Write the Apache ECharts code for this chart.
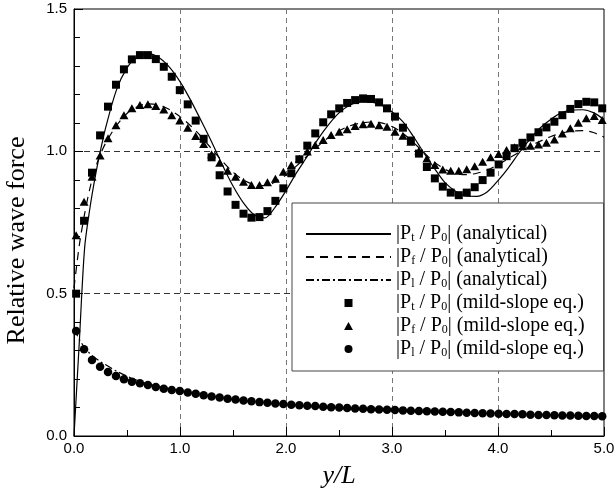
<!DOCTYPE html>
<html><head><meta charset="utf-8">
<script src="https://cdn.jsdelivr.net/npm/echarts@6/dist/echarts.min.js"></script>
<style>html,body{margin:0;padding:0;background:#fff}#c{width:616px;height:492px}</style>
</head><body><div id="c"></div>
<script>
// mild-slope equation sample positions (y/L)
const xMs = [0.02,0.095,0.17,0.246,0.321,0.396,0.471,0.546,0.622,0.697,0.772,0.847,0.922,0.998,1.073,1.148,1.223,1.298,1.374,1.449,1.524,1.599,1.674,1.75,1.825,1.9,1.975,2.05,2.126,2.201,2.276,2.351,2.426,2.502,2.577,2.652,2.727,2.802,2.878,2.953,3.028,3.103,3.178,3.254,3.329,3.404,3.479,3.554,3.63,3.705,3.78,3.855,3.93,4.006,4.081,4.156,4.231,4.306,4.382,4.457,4.532,4.607,4.682,4.758,4.833,4.908,4.983];
const ptMs = [0.500,0.756,0.925,1.056,1.157,1.234,1.288,1.323,1.338,1.338,1.324,1.297,1.262,1.215,1.165,1.108,1.044,0.979,0.916,0.859,0.812,0.781,0.767,0.769,0.790,0.826,0.870,0.923,0.972,1.020,1.063,1.102,1.130,1.151,1.170,1.180,1.186,1.184,1.172,1.151,1.122,1.083,1.038,0.992,0.945,0.905,0.876,0.855,0.846,0.855,0.874,0.899,0.925,0.954,0.983,1.011,1.030,1.049,1.067,1.084,1.104,1.127,1.149,1.166,1.174,1.172,1.151];
const pfMs = [0.705,0.823,0.911,0.985,1.046,1.092,1.127,1.151,1.163,1.165,1.159,1.147,1.127,1.108,1.083,1.054,1.026,0.990,0.960,0.932,0.911,0.893,0.882,0.882,0.891,0.904,0.928,0.952,0.974,0.999,1.022,1.040,1.057,1.069,1.078,1.089,1.095,1.097,1.092,1.086,1.069,1.055,1.034,1.002,0.975,0.952,0.936,0.932,0.932,0.937,0.948,0.963,0.979,0.991,1.005,1.014,1.018,1.020,1.024,1.030,1.042,1.063,1.081,1.100,1.116,1.124,1.110];
const plMs = [0.369,0.305,0.267,0.243,0.225,0.211,0.199,0.191,0.185,0.179,0.172,0.166,0.162,0.158,0.153,0.148,0.143,0.139,0.135,0.131,0.128,0.125,0.122,0.119,0.117,0.114,0.112,0.110,0.108,0.106,0.105,0.103,0.101,0.100,0.098,0.097,0.096,0.094,0.093,0.092,0.091,0.090,0.089,0.088,0.087,0.086,0.085,0.084,0.083,0.082,0.081,0.080,0.079,0.078,0.077,0.077,0.076,0.075,0.074,0.074,0.073,0.072,0.072,0.071,0.070,0.070,0.069];

// analytical solution sample positions (y/L)
const xAn = [0,0.05,0.1,0.15,0.2,0.25,0.3,0.4,0.5,0.6,0.7,0.8,0.9,1.0,1.1,1.2,1.3,1.4,1.5,1.6,1.7,1.8,1.9,2.0,2.1,2.2,2.3,2.4,2.5,2.6,2.7,2.8,2.9,3.0,3.1,3.2,3.3,3.4,3.5,3.6,3.7,3.8,3.9,4.0,4.1,4.2,4.3,4.4,4.5,4.6,4.7,4.8,4.9,5.0];
const ptAn = [0,0.33,0.66,0.80,0.91,1.003,1.085,1.215,1.293,1.333,1.343,1.330,1.296,1.245,1.180,1.107,1.032,0.952,0.878,0.818,0.777,0.766,0.805,0.862,0.925,0.982,1.042,1.093,1.135,1.162,1.173,1.173,1.162,1.139,1.105,1.053,0.995,0.940,0.890,0.860,0.843,0.842,0.858,0.897,0.943,0.995,1.042,1.083,1.113,1.136,1.145,1.146,1.136,1.112];
const pfAn = [0.52,0.67,0.78,0.87,0.94,0.99,1.03,1.09,1.133,1.157,1.167,1.163,1.147,1.122,1.09,1.052,1.008,0.965,0.927,0.899,0.883,0.880,0.892,0.917,0.949,0.984,1.018,1.048,1.072,1.089,1.099,1.103,1.100,1.087,1.064,1.032,0.996,0.962,0.937,0.922,0.918,0.923,0.935,0.953,0.975,0.997,1.018,1.036,1.052,1.064,1.071,1.073,1.066,1.050];
const plAn = [0.375,0.34,0.31,0.29,0.274,0.261,0.25,0.228,0.21,0.195,0.183,0.174,0.166,0.159,0.152,0.145,0.139,0.134,0.129,0.125,0.121,0.118,0.114,0.111,0.109,0.106,0.104,0.102,0.100,0.098,0.096,0.094,0.093,0.091,0.090,0.089,0.087,0.086,0.085,0.084,0.083,0.081,0.080,0.079,0.078,0.077,0.076,0.075,0.074,0.073,0.072,0.071,0.070,0.069];

const legendText = {
  ta: '|P{s|t} / P{s|0}| (analytical)',
  fa: '|P{s|f} / P{s|0}| (analytical)',
  la: '|P{s|l} / P{s|0}| (analytical)',
  tm: '|P{s|t} / P{s|0}| (mild-slope eq.)',
  fm: '|P{s|f} / P{s|0}| (mild-slope eq.)',
  lm: '|P{s|l} / P{s|0}| (mild-slope eq.)'
};
const xAxisTitle = 'y/L';
const yAxisTitle = 'Relative wave force';

const zip = (xs, ys) => xs.map((x, i) => [x, ys[i]]);
const serif = 'Liberation Serif';
const sans = 'Liberation Sans';

const chart = echarts.init(document.getElementById('c'), null, {renderer: 'canvas'});
chart.setOption({
  animation: false,
  backgroundColor: '#fff',
  grid: {left: 74, right: 12, top: 9, bottom: 56, containLabel: false, outerBoundsMode: 'none',
    show: true, borderColor: '#000', borderWidth: 1, backgroundColor: 'transparent'},
  xAxis: {
    type: 'value', min: 0, max: 5, interval: 1,
    name: xAxisTitle, nameLocation: 'middle', nameGap: 27,
    nameTextStyle: {fontFamily: serif, fontStyle: 'italic', fontSize: 26, color: '#000'},
    axisLine: {show: true, onZero: false, lineStyle: {color: '#000', width: 1}},
    axisTick: {show: true, inside: true, length: 9, lineStyle: {color: '#000'}},
    minorTick: {show: true, splitNumber: 2, length: 6, lineStyle: {color: '#000'}},
    axisLabel: {margin: 5, fontFamily: sans, fontSize: 15, color: '#000', formatter: v => v.toFixed(1)},
    splitLine: {show: true, showMinLine: false, showMaxLine: false, lineStyle: {color: '#777', type: [5, 4], width: 1}}
  },
  yAxis: {
    type: 'value', min: 0, max: 1.5, interval: 0.5,
    name: yAxisTitle, nameLocation: 'middle', nameGap: 44,
    nameTextStyle: {fontFamily: serif, fontSize: 26, color: '#000', padding: [0, 36, 0, 0]},
    axisLine: {show: true, onZero: false, lineStyle: {color: '#000', width: 1}},
    axisTick: {show: true, inside: true, length: 9, lineStyle: {color: '#000'}},
    minorTick: {show: true, splitNumber: 5, length: 6, lineStyle: {color: '#000'}},
    axisLabel: {margin: 7, fontFamily: sans, fontSize: 15, color: '#000', formatter: v => v.toFixed(1)},
    splitLine: {show: true, showMinLine: false, showMaxLine: false, lineStyle: {color: '#333', type: [6, 4], width: 1}}
  },
  legend: {
    orient: 'vertical', left: 292, top: 203, align: 'left',
    itemWidth: 85, itemHeight: 8, itemGap: 3, symbolKeepAspect: true,
    padding: [21, 19, 12, 13],
    borderColor: '#444', borderWidth: 1, borderRadius: 0, backgroundColor: '#fff',
    selectedMode: false,
    formatter: name => legendText[name],
    textStyle: {fontFamily: serif, fontSize: 20, color: '#000', lineHeight: 20,
      rich: {s: {fontFamily: serif, fontSize: 12, lineHeight: 12, verticalAlign: 'bottom', color: '#000'}}},
    data: [
      {name: 'ta', itemStyle: {opacity: 0}},
      {name: 'fa', itemStyle: {opacity: 0}},
      {name: 'la', itemStyle: {opacity: 0}},
      {name: 'tm', icon: 'path://M0,0L10,0L10,10L0,10Z'},
      {name: 'fm', icon: 'path://M5,0L10,9L0,9Z'},
      {name: 'lm', icon: 'circle'}
    ]
  },
  series: [
    {name: 'ta', type: 'line', data: zip(xAn, ptAn), symbol: 'none', smooth: 0.3, z: 2,
      lineStyle: {color: '#000', width: 1.2, type: 'solid'}, itemStyle: {color: '#000'}},
    {name: 'fa', type: 'line', data: zip(xAn, pfAn), symbol: 'none', smooth: 0.3, z: 2,
      lineStyle: {color: '#000', width: 1.2, type: [8, 6]}, itemStyle: {color: '#000'}},
    {name: 'la', type: 'line', data: zip(xAn, plAn), symbol: 'none', smooth: 0.3, z: 2,
      lineStyle: {color: '#000', width: 1.2, type: [8, 3, 2, 3]}, itemStyle: {color: '#000'}},
    {name: 'tm', type: 'scatter', data: zip(xMs, ptMs), symbol: 'rect', symbolSize: 8, z: 3,
      itemStyle: {color: '#000', opacity: 1}},
    {name: 'fm', type: 'scatter', data: zip(xMs, pfMs), symbol: 'triangle', symbolSize: [9, 8], z: 3,
      itemStyle: {color: '#000', opacity: 1}},
    {name: 'lm', type: 'scatter', data: zip(xMs, plMs), symbol: 'circle', symbolSize: 8.5, z: 3,
      itemStyle: {color: '#000', opacity: 1}}
  ]
});
</script></body></html>
